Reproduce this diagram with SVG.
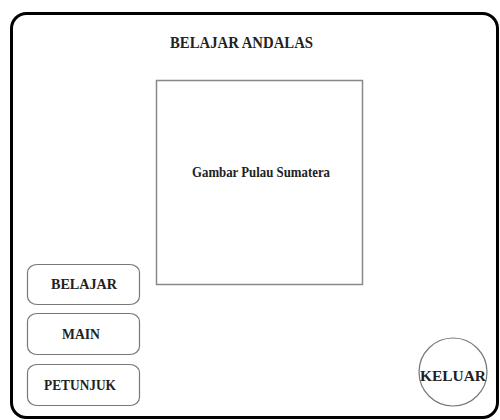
<svg xmlns="http://www.w3.org/2000/svg" width="500" height="420" viewBox="0 0 500 420">
<style>
.t{font-family:"Liberation Serif","Times New Roman",serif;font-weight:bold;fill:#222;text-anchor:middle}
.btn{fill:#fff;stroke:#777;stroke-width:1.2}
</style>
<rect x="0" y="0" width="500" height="420" fill="#fff"/>
<g id="frame">
<rect x="11.5" y="13.5" width="486" height="404" rx="15" ry="15" fill="#fff" stroke="#000" stroke-width="3"/>
</g>
<g id="title">
<text class="t" x="241.5" y="48" font-size="17" textLength="143" lengthAdjust="spacingAndGlyphs">BELAJAR ANDALAS</text>
</g>
<g id="map">
<rect x="156.5" y="80.5" width="206" height="204" fill="#fff" stroke="#888" stroke-width="1.5"/>
<text class="t" x="261" y="177" font-size="14" textLength="138" lengthAdjust="spacingAndGlyphs">Gambar Pulau Sumatera</text>
</g>
<g id="belajar">
<rect class="btn" x="27.5" y="264.5" width="112" height="40" rx="10" ry="8"/>
<text class="t" x="84" y="289" font-size="15" textLength="66" lengthAdjust="spacingAndGlyphs">BELAJAR</text>
</g>
<g id="main">
<rect class="btn" x="27.5" y="313.5" width="112" height="41" rx="10" ry="8"/>
<text class="t" x="81" y="339" font-size="15" textLength="38" lengthAdjust="spacingAndGlyphs">MAIN</text>
</g>
<g id="petunjuk">
<rect class="btn" x="27.5" y="364.5" width="112" height="41" rx="10" ry="8"/>
<text class="t" x="80" y="390" font-size="15" textLength="72" lengthAdjust="spacingAndGlyphs">PETUNJUK</text>
</g>
<g id="keluar">
<circle class="btn" cx="453" cy="372" r="34"/>
<text class="t" x="453" y="381" font-size="15" textLength="66" lengthAdjust="spacingAndGlyphs">KELUAR</text>
</g>
<g id="connectors"></g>
</svg>
